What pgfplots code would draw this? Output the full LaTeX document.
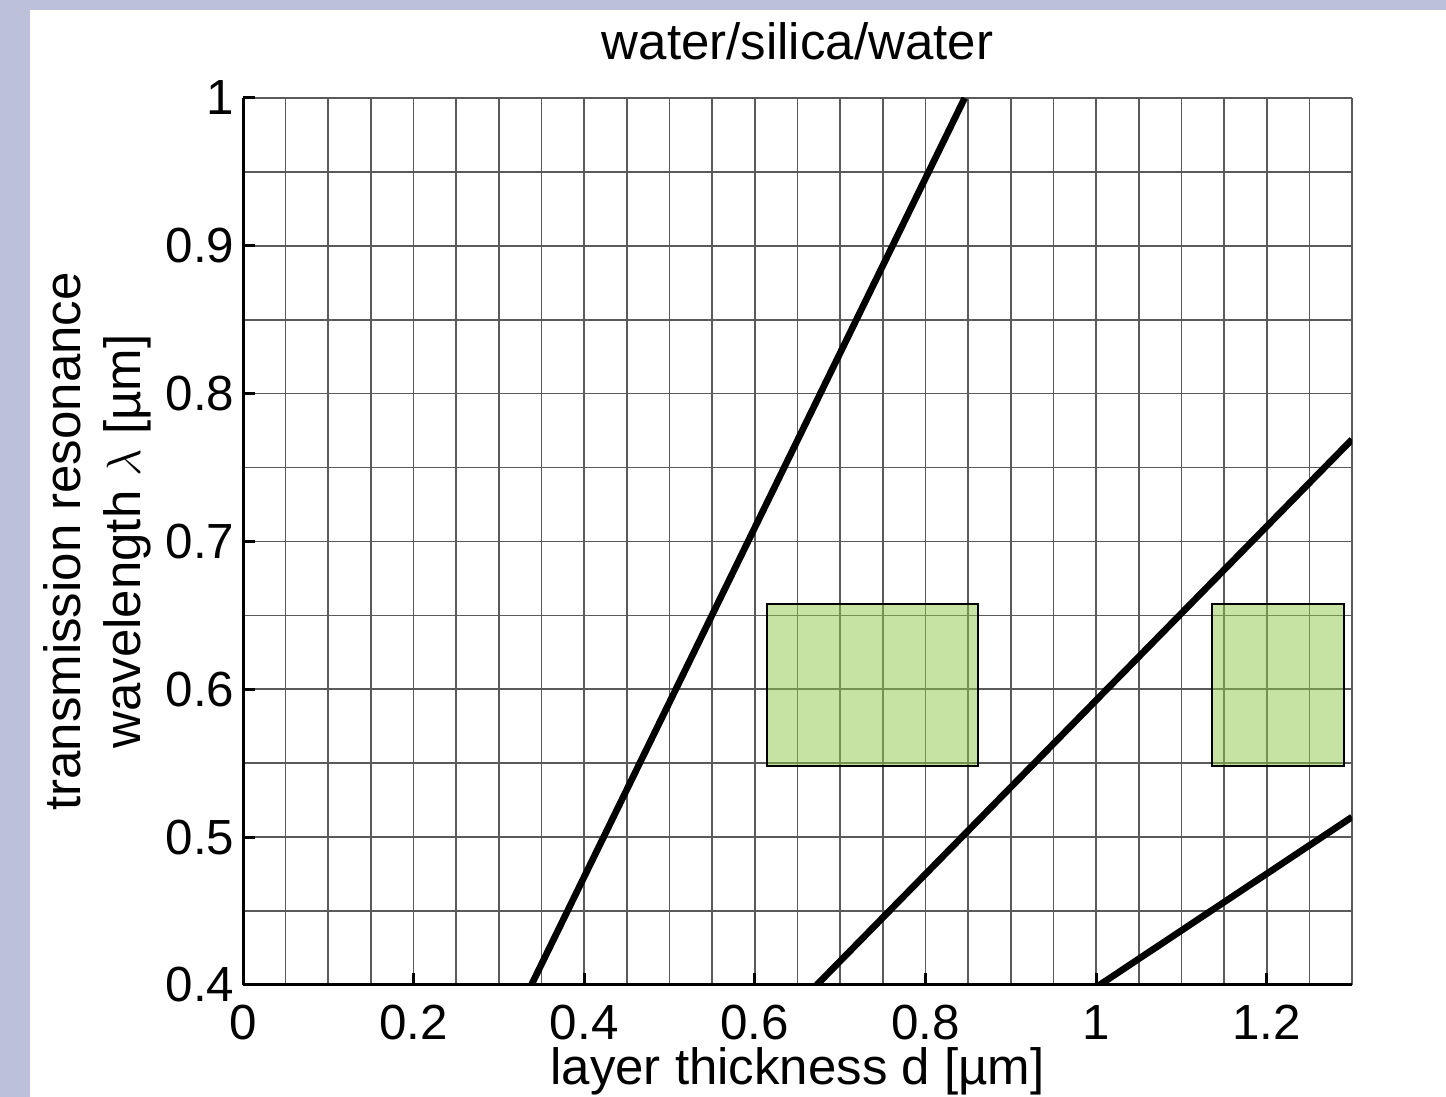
\documentclass[border=0pt]{standalone}
\usepackage{fontspec}
\setmainfont{Liberation Sans}
\usepackage{pgfplots}
\pgfplotsset{compat=1.18}
\definecolor{bgband}{RGB}{188,192,216}
\definecolor{boxgreen}{RGB}{145,201,73}
\definecolor{gridgray}{RGB}{90,90,90}
\begin{document}
\begin{tikzpicture}
\fill[bgband] (0,0) rectangle (433.8pt,329.1pt);
\fill[white] (9pt,0) rectangle (433.8pt,326.1pt);
\begin{axis}[
  at={(72.9pt,33.6pt)}, anchor=south west,
  scale only axis, width=332.7pt, height=266.1pt,
  xmin=0, xmax=1.3, ymin=0.4, ymax=1.0,
  axis lines=left,
  axis line style={black, line width=0.9pt, -},
  xtick={0,0.2,0.4,0.6,0.8,1,1.2},
  ytick={0.4,0.5,0.6,0.7,0.8,0.9,1},
  minor xtick={0.05,0.1,0.15,0.25,0.3,0.35,0.45,0.5,0.55,0.65,0.7,0.75,0.85,0.9,0.95,1.05,1.1,1.15,1.25,1.3},
  minor ytick={0.45,0.55,0.65,0.75,0.85,0.95},
  grid=both,
  major grid style={gridgray, line width=0.5pt},
  minor grid style={gridgray, line width=0.5pt},
  tick align=inside,
  major tick length=3.6pt,
  minor tick length=0pt,
  tick style={black, line width=0.9pt},
  /pgf/number format/assume math mode=true,
  ticklabel style={font=\fontsize{14.8}{17}\selectfont},
  xticklabel style={anchor=base, inner sep=0pt, yshift=-16.2pt},
  yticklabel style={anchor=east, inner sep=0pt, xshift=-2.4pt},
  title={water/silica/water},
  title style={font=\fontsize{15.3}{18}\selectfont, at={(0.5,1)}, anchor=base, inner sep=0pt, yshift=5.4pt},
  xlabel={layer thickness d [µm]},
  xlabel style={font=\fontsize{15.3}{18}\selectfont, at={(rel axis cs:0.5,0)}, anchor=base, inner sep=0pt, yshift=-30pt},
  ylabel={transmission resonance\\wavelength $\lambda$ [µm]},
  ylabel style={font=\fontsize{15.3}{18}\selectfont, align=center, at={(rel axis cs:0,0.5)}, anchor=south, inner sep=0pt, yshift=27.3pt},
  clip=true,
]
\addplot[draw=black, line width=0.6pt, fill=boxgreen, fill opacity=0.5] coordinates {(0.614,0.548) (0.862,0.548) (0.862,0.658) (0.614,0.658)} -- cycle;
\addplot[draw=black, line width=0.6pt, fill=boxgreen, fill opacity=0.5] coordinates {(1.136,0.548) (1.291,0.548) (1.291,0.658) (1.136,0.658)} -- cycle;
\addplot[black, line width=2pt] coordinates {(0.338,0.4) (0.846,1.0)};
\addplot[black, line width=2pt] coordinates {(0.6725,0.4) (1.3,0.769)};
\addplot[black, line width=2pt] coordinates {(1.004,0.4) (1.3,0.5136)};
\end{axis}
\pgfresetboundingbox
\useasboundingbox (0,0) rectangle (433.8pt,329.1pt);
\end{tikzpicture}
\end{document}
